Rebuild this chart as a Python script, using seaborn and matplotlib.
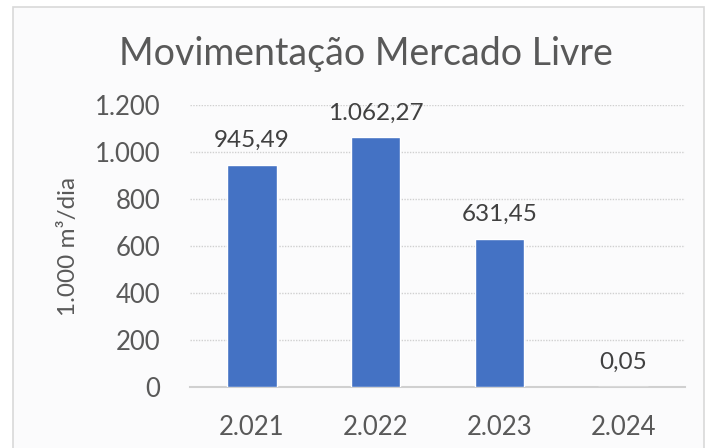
"""
Movimentação Mercado Livre - bar chart recreation.
"""
import matplotlib
matplotlib.use('Agg')
import matplotlib.pyplot as plt
import seaborn as sns
from matplotlib.patches import Rectangle

# data
years = ['2.021', '2.022', '2.023', '2.024']
volumes = [945.49, 1062.27, 631.45, 0.05]
value_labels = ['945,49', '1.062,27', '631,45', '0,05']
y_ticks = [0, 200, 400, 600, 800, 1000, 1200]
y_tick_labels = ['0', '200', '400', '600', '800', '1.000', '1.200']

BAR_COLOR = '#4472C4'
TEXT_GRAY = '#595959'
LABEL_GRAY = '#404040'

sns.set_style('white')
plt.rcParams['font.family'] = ['Lato', 'DejaVu Sans']

fig = plt.figure(figsize=(7.07, 4.48), dpi=100)
fig.patch.set_facecolor('white')

# outer chart frame
fig.patches.append(Rectangle((13 / 707, -0.05), 691 / 707, 1.05 - 7 / 448,
                             transform=fig.transFigure, facecolor='#fbfbfc',
                             edgecolor='#d9d9d9', linewidth=1.2, zorder=-1))

ax = fig.add_axes([190 / 707, 61 / 448, 495 / 707, 282 / 448])
ax.set_zorder(2)
ax.set_facecolor('none')

sns.barplot(x=years, y=volumes, color=BAR_COLOR, width=0.4, saturation=1,
            ax=ax, zorder=3)

ax.set_ylim(0, 1200)
ax.set_yticks(y_ticks)
ax.set_yticklabels(y_tick_labels)
ax.tick_params(axis='y', labelsize=18.5, colors=TEXT_GRAY, length=0, pad=21.5)
ax.tick_params(axis='x', labelsize=18.5, colors=TEXT_GRAY, length=0, pad=20)
ax.yaxis.grid(True, linestyle=(0, (1, 1)), color='#d0d0d0', linewidth=1)
ax.set_axisbelow(True)

for side in ['top', 'right', 'left']:
    ax.spines[side].set_visible(False)
ax.spines['bottom'].set_color('#d0d0d0')
ax.spines['bottom'].set_linewidth(1.5)

ax.bar_label(ax.containers[0], labels=value_labels, padding=10,
             fontsize=17.5, color=LABEL_GRAY)

ax.set_ylabel('1.000 m³/dia', fontsize=17.5, color=TEXT_GRAY, labelpad=11)
ax.set_xlabel('')

fig.text(0.518, 1 - 54 / 448, 'Movimentação Mercado Livre', ha='center',
         va='center', fontsize=27, color=TEXT_GRAY)

plt.savefig('out.png', dpi=100)
plt.close()
